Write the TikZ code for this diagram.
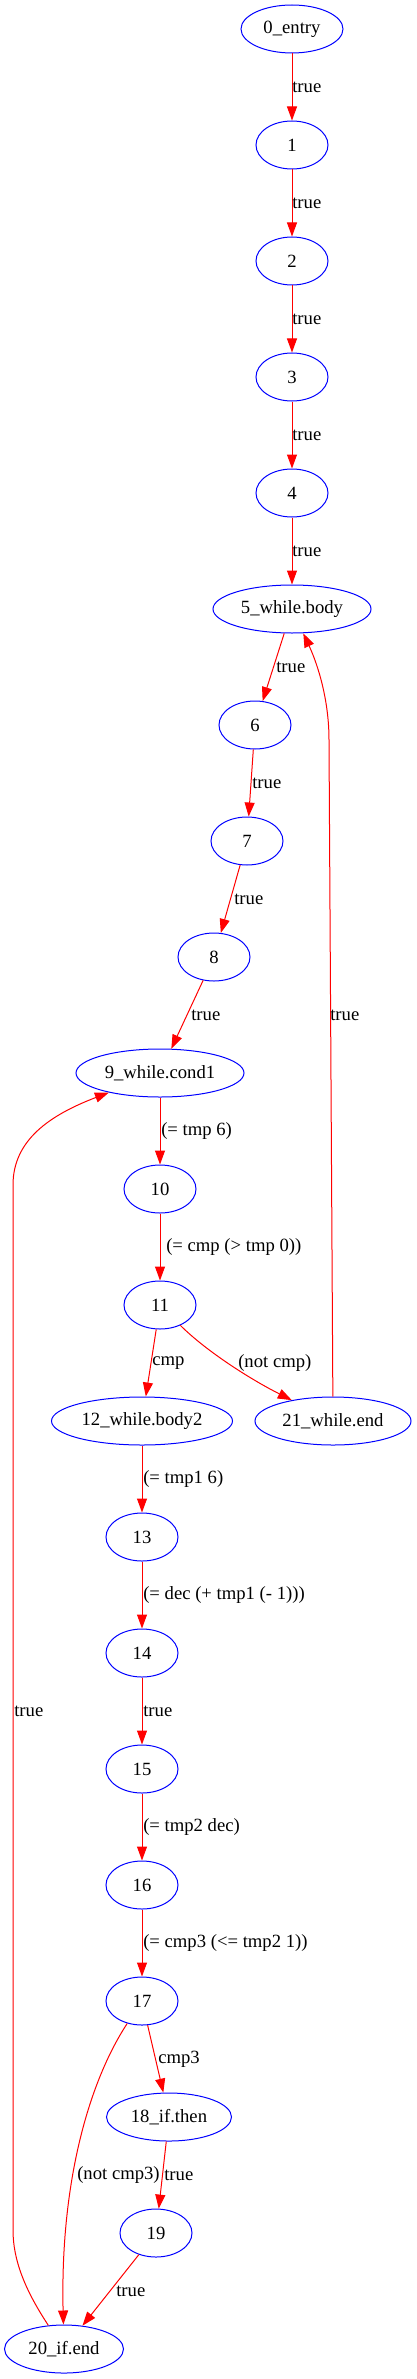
\documentclass[tikz,border=0pt]{standalone}
\usepackage{fontspec}
\setmainfont{Liberation Serif}
\usetikzlibrary{shapes.geometric,arrows.meta}
\begin{document}
\begin{tikzpicture}[x=0.75pt,y=-0.75pt,
  nd/.style={ellipse, draw=blue, line width=0.75pt, inner sep=0pt, minimum height=36pt, minimum width=54pt, font=\fontsize{14}{16}\selectfont},
  e/.style={draw=red, line width=0.75pt, -{Triangle[length=10.5pt,width=7.5pt,fill=red]}},
  lbl/.style={anchor=west, inner sep=0pt, font=\fontsize{14}{16}\selectfont}]
\useasboundingbox (0,0) rectangle (417,2379);
% nodes
\node[nd, minimum width=76.5pt] (n0) at (292,29) {0\_entry};
\node[nd] (n1) at (292,145) {1};
\node[nd] (n2) at (292,261) {2};
\node[nd] (n3) at (292,377) {3};
\node[nd] (n4) at (292,493) {4};
\node[nd, minimum width=118.5pt] (n5) at (292,609) {5\_while.body};
\node[nd] (n6) at (255,725) {6};
\node[nd] (n7) at (247,841) {7};
\node[nd] (n8) at (214,957) {8};
\node[nd, minimum width=126pt] (n9) at (160,1073) {9\_while.cond1};
\node[nd] (n10) at (160,1189) {10};
\node[nd] (n11) at (160,1305) {11};
\node[nd, minimum width=135.75pt] (n12) at (142,1421) {12\_while.body2};
\node[nd, minimum width=117pt] (n21) at (333,1421) {21\_while.end};
\node[nd] (n13) at (142,1537) {13};
\node[nd] (n14) at (142,1653) {14};
\node[nd] (n15) at (142,1769) {15};
\node[nd] (n16) at (142,1885) {16};
\node[nd] (n17) at (142,2001) {17};
\node[nd, minimum width=93.75pt] (n18) at (169,2117) {18\_if.then};
\node[nd] (n19) at (156,2233) {19};
\node[nd, minimum width=89.25pt] (n20) at (64,2349) {20\_if.end};
% edges
\draw[e] (n0) -- (n1);
\draw[e] (n1) -- (n2);
\draw[e] (n2) -- (n3);
\draw[e] (n3) -- (n4);
\draw[e] (n4) -- (n5);
\draw[e] (n5) -- (n6);
\draw[e] (n6) -- (n7);
\draw[e] (n7) -- (n8);
\draw[e] (n8) -- (n9);
\draw[e] (n9) -- (n10);
\draw[e] (n10) -- (n11);
\draw[e] (n11) -- (n12);
\draw[e] (n11) .. controls (205,1350) and (248,1378) .. (n21);
\draw[e] (n21) -- (329,740) .. controls (329,700) and (318,665) .. (n5);
\draw[e] (n12) -- (n13);
\draw[e] (n13) -- (n14);
\draw[e] (n14) -- (n15);
\draw[e] (n15) -- (n16);
\draw[e] (n16) -- (n17);
\draw[e] (n17) -- (n18);
\draw[e] (n17) .. controls (90,2080) and (60,2180) .. (n20);
\draw[e] (n18) -- (n19);
\draw[e] (n19) -- (n20);
\draw[e] (n20) .. controls (25,2290) and (13,2260) .. (13,2230) -- (13,1185) .. controls (13,1140) and (50,1115) .. (n9);
% labels
\node[lbl] (l01) at (292,87) {true};
\node[lbl] (l12) at (292,203) {true};
\node[lbl] (l23) at (292,319) {true};
\node[lbl] (l34) at (292,435) {true};
\node[lbl] (l45) at (292,551) {true};
\node[lbl] (l56) at (276,667) {true};
\node[lbl] (l67) at (252,783) {true};
\node[lbl] (l78) at (234,899) {true};
\node[lbl] (l89) at (191,1015) {true};
\node[lbl] (l215) at (330,1015) {true};
\node[lbl] (l910) at (161,1131) {(= tmp 6)};
\node[lbl] (l1011) at (166,1247) {(= cmp (> tmp 0))};
\node[lbl] (l1112) at (152,1363) {cmp};
\node[lbl] (l1121) at (238,1363) {(not cmp)};
\node[lbl] (l1213) at (143,1479) {(= tmp1 6)};
\node[lbl] (l1314) at (143,1595) {(= dec (+ tmp1 (- 1)))};
\node[lbl] (l1415) at (143,1711) {true};
\node[lbl] (l209) at (14,1711) {true};
\node[lbl] (l1516) at (143,1827) {(= tmp2 dec)};
\node[lbl] (l1617) at (143,1943) {(= cmp3 (<= tmp2 1))};
\node[lbl] (l1718) at (158,2059) {cmp3};
\node[lbl] (l1720) at (77,2175) {(not cmp3)};
\node[lbl] (l1819) at (164,2175) {true};
\node[lbl] (l1920) at (116,2291) {true};
\end{tikzpicture}
\end{document}
